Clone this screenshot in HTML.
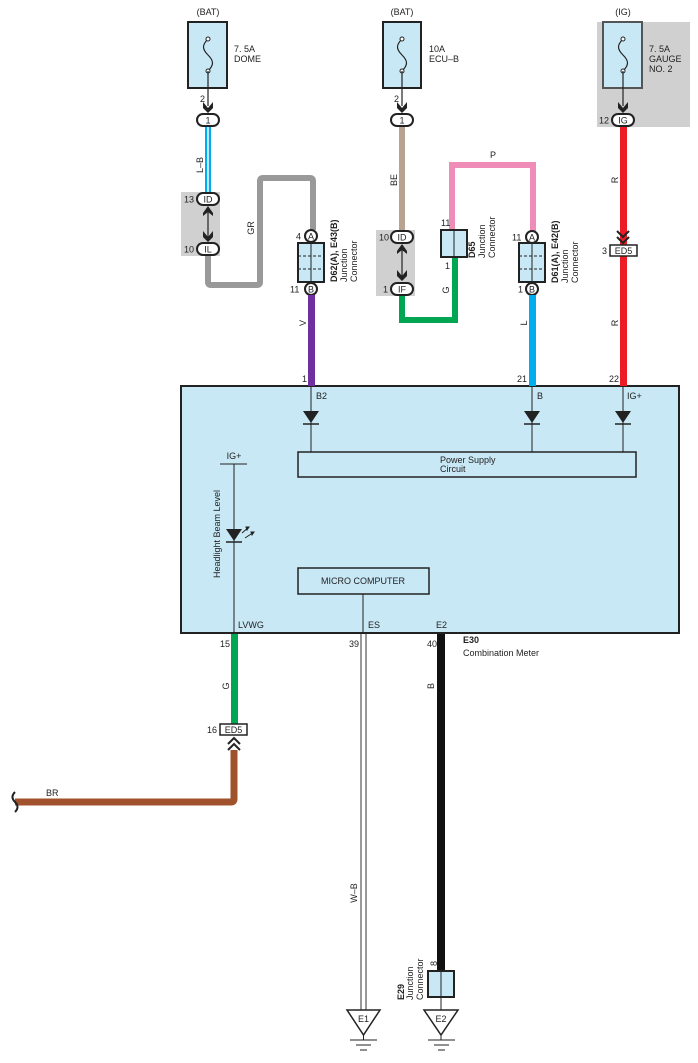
<!DOCTYPE html>
<html><head><meta charset="utf-8"><style>
html,body{margin:0;padding:0;background:#fff}
svg{display:block}
text{font-family:"Liberation Sans",sans-serif;font-size:9px;fill:#222}
.b{font-weight:bold}
</style></head><body>
<svg width="698" height="1063" viewBox="0 0 698 1063" xmlns="http://www.w3.org/2000/svg">
<defs>
<g id="fuse"><path d="M0,0 c-6,6 -6,10 0,16 c6,6 6,10 0,16" fill="none" stroke="#222" stroke-width="1.2"/><circle cx="0" cy="0" r="2" fill="#fff" stroke="#222"/><circle cx="0" cy="32" r="2" fill="#fff" stroke="#222"/></g>
<g id="arr"><path d="M-5,-4 L0,2 L5,-4 L5,2 L0,7 L-5,2Z" fill="#222"/></g>
<g id="diode"><path d="M-8,-6 L8,-6 L0,6Z" fill="#222"/><line x1="-8" y1="7" x2="8" y2="7" stroke="#222" stroke-width="1.5"/></g>
</defs>

<!-- gray backgrounds -->
<rect x="181" y="192" width="39" height="64" fill="#d0d0d0"/>
<rect x="376" y="230" width="39" height="66" fill="#d0d0d0"/>
<rect x="597" y="22" width="93" height="105" fill="#d0d0d0"/>

<!-- main box -->
<rect x="181" y="386" width="498" height="247" fill="#c9e8f6" stroke="#222" stroke-width="2"/>

<!-- Fuse 1 -->
<text x="208" y="15" text-anchor="middle">(BAT)</text>
<rect x="188" y="22" width="39" height="66" fill="#c9e8f6" stroke="#222" stroke-width="2"/>
<use href="#fuse" x="208" y="39"/>
<line x1="208" y1="71" x2="208" y2="106" stroke="#222" stroke-width="1.2"/>
<text x="234" y="52">7. 5A</text><text x="234" y="62">DOME</text>
<text x="200" y="102">2</text>
<use href="#arr" x="208" y="106"/>
<!-- L-B wire -->
<rect x="205" y="126" width="6" height="68" fill="#00aeef"/>
<line x1="208" y1="126" x2="208" y2="194" stroke="#fff" stroke-width="1.5"/>
<text transform="translate(203,165) rotate(-90)" text-anchor="middle">L–B</text>
<!-- GR wire -->
<path d="M208,256 V282 Q208,285 211,285 H257 Q260,285 260,282 V181 Q260,178 263,178 H310 Q313,178 313,181 V230" fill="none" stroke="#999" stroke-width="6"/>
<text transform="translate(254,228) rotate(-90)" text-anchor="middle">GR</text>
<rect x="197" y="114" width="22" height="12" rx="6" fill="#fff" stroke="#222" stroke-width="2"/><text x="208" y="123.5" text-anchor="middle">1</text>
<rect x="197" y="193" width="22" height="12" rx="6" fill="#fff" stroke="#222" stroke-width="2"/><text x="208" y="202.5" text-anchor="middle">ID</text>
<rect x="197" y="243" width="22" height="12" rx="6" fill="#fff" stroke="#222" stroke-width="2"/><text x="208" y="252.5" text-anchor="middle">IL</text>
<text x="184" y="202.5">13</text><text x="184" y="252.5">10</text>
<line x1="208" y1="210" x2="208" y2="238" stroke="#222" stroke-width="1.2"/>
<path d="M203,213 L208,206 L213,213 L213,216 L208,212 L203,216Z" fill="#222"/>
<use href="#arr" x="208" y="235"/>
<!-- D62 connector -->
<circle cx="311" cy="236" r="6" fill="#fff" stroke="#222" stroke-width="2"/><text x="311" y="239.5" text-anchor="middle">A</text>
<text x="296" y="239.5">4</text>
<rect x="298" y="243" width="26" height="39" fill="#c9e8f6" stroke="#222" stroke-width="2"/>
<line x1="311" y1="243" x2="311" y2="282" stroke="#222"/>
<line x1="298" y1="256" x2="324" y2="256" stroke="#222" stroke-dasharray="3,2"/>
<line x1="298" y1="269" x2="324" y2="269" stroke="#222" stroke-dasharray="3,2"/>
<circle cx="311" cy="289" r="6" fill="#fff" stroke="#222" stroke-width="2"/><text x="311" y="292.5" text-anchor="middle">B</text>
<text x="290" y="292.5">11</text>
<text transform="translate(337,282) rotate(-90)"><tspan class="b">D62(A), E43(B)</tspan></text>
<text transform="translate(347,282) rotate(-90)">Junction</text>
<text transform="translate(357,282) rotate(-90)">Connector</text>
<rect x="308" y="295" width="7" height="91" fill="#7030a0"/>
<text transform="translate(306,323) rotate(-90)" text-anchor="middle">V</text>
<text x="302" y="382">1</text>

<!-- Fuse 2 -->
<text x="402" y="15" text-anchor="middle">(BAT)</text>
<rect x="383" y="22" width="38" height="66" fill="#c9e8f6" stroke="#222" stroke-width="2"/>
<use href="#fuse" x="402" y="39"/>
<line x1="402" y1="71" x2="402" y2="106" stroke="#222" stroke-width="1.2"/>
<text x="429" y="52">10A</text><text x="429" y="62">ECU–B</text>
<text x="394" y="102">2</text>
<use href="#arr" x="402" y="106"/>
<rect x="399" y="126" width="6" height="106" fill="#b8a390"/>
<text transform="translate(397,180) rotate(-90)" text-anchor="middle">BE</text>
<path d="M402,295 V320 H455 V257" fill="none" stroke="#00a651" stroke-width="6"/>
<text transform="translate(449,290) rotate(-90)" text-anchor="middle">G</text>
<path d="M452,230 V165 H533 V231" fill="none" stroke="#f08cb8" stroke-width="6"/>
<text x="493" y="158" text-anchor="middle">P</text>
<rect x="391" y="114" width="22" height="12" rx="6" fill="#fff" stroke="#222" stroke-width="2"/><text x="402" y="123.5" text-anchor="middle">1</text>
<rect x="391" y="231" width="22" height="12" rx="6" fill="#fff" stroke="#222" stroke-width="2"/><text x="402" y="240.5" text-anchor="middle">ID</text>
<rect x="391" y="283" width="22" height="12" rx="6" fill="#fff" stroke="#222" stroke-width="2"/><text x="402" y="292.5" text-anchor="middle">IF</text>
<text x="379" y="240.5">10</text><text x="383" y="292.5">1</text>
<line x1="402" y1="248" x2="402" y2="277" stroke="#222" stroke-width="1.2"/>
<path d="M397,251 L402,244 L407,251 L407,254 L402,250 L397,254Z" fill="#222"/>
<use href="#arr" x="402" y="274"/>
<!-- D65 -->
<rect x="441" y="230" width="26" height="27" fill="#c9e8f6" stroke="#222" stroke-width="2"/>
<line x1="454" y1="230" x2="454" y2="257" stroke="#222"/>
<text x="441" y="226">11</text><text x="445" y="269">1</text>
<text transform="translate(475,258) rotate(-90)"><tspan class="b">D65</tspan></text>
<text transform="translate(485,258) rotate(-90)">Junction</text>
<text transform="translate(495,258) rotate(-90)">Connector</text>
<!-- D61 -->
<circle cx="532" cy="237" r="6" fill="#fff" stroke="#222" stroke-width="2"/><text x="532" y="240.5" text-anchor="middle">A</text>
<text x="512" y="240.5">11</text>
<rect x="519" y="243" width="26" height="39" fill="#c9e8f6" stroke="#222" stroke-width="2"/>
<line x1="532" y1="243" x2="532" y2="282" stroke="#222"/>
<line x1="519" y1="256" x2="545" y2="256" stroke="#222" stroke-dasharray="3,2"/>
<line x1="519" y1="269" x2="545" y2="269" stroke="#222" stroke-dasharray="3,2"/>
<circle cx="532" cy="289" r="6" fill="#fff" stroke="#222" stroke-width="2"/><text x="532" y="292.5" text-anchor="middle">B</text>
<text x="518" y="292.5">1</text>
<text transform="translate(558,283) rotate(-90)"><tspan class="b">D61(A), E42(B)</tspan></text>
<text transform="translate(568,283) rotate(-90)">Junction</text>
<text transform="translate(578,283) rotate(-90)">Connector</text>
<rect x="529" y="295" width="7" height="91" fill="#00aeef"/>
<text transform="translate(527,323) rotate(-90)" text-anchor="middle">L</text>
<text x="517" y="382">21</text>

<!-- Fuse 3 -->
<text x="623" y="15" text-anchor="middle">(IG)</text>
<rect x="603" y="22" width="39" height="66" fill="#c9e8f6" stroke="#555" stroke-width="2"/>
<use href="#fuse" x="623" y="39"/>
<line x1="623" y1="71" x2="623" y2="106" stroke="#222" stroke-width="1.2"/>
<text x="649" y="52">7. 5A</text><text x="649" y="62">GAUGE</text><text x="649" y="72">NO. 2</text>
<use href="#arr" x="623" y="106"/>
<rect x="612" y="114" width="22" height="12" rx="6" fill="#fff" stroke="#222" stroke-width="2"/><text x="623" y="123.5" text-anchor="middle">IG</text>
<text x="599" y="123.5">12</text>
<rect x="620" y="127" width="7" height="259" fill="#ed1c24"/>
<text transform="translate(618,180) rotate(-90)" text-anchor="middle">R</text>
<text transform="translate(618,323) rotate(-90)" text-anchor="middle">R</text>
<path d="M617,231 L623,237 L629,231 M617,237 L623,243 L629,237" fill="none" stroke="#222" stroke-width="2"/>
<rect x="610" y="245" width="27" height="11" fill="#fff" stroke="#222" stroke-width="1.5"/><text x="623.5" y="254" text-anchor="middle">ED5</text>
<text x="602" y="254">3</text>
<text x="609" y="382">22</text>

<!-- inside box -->
<line x1="311" y1="386" x2="311" y2="452" stroke="#222"/>
<line x1="532" y1="386" x2="532" y2="452" stroke="#222"/>
<line x1="623" y1="386" x2="623" y2="452" stroke="#222"/>
<use href="#diode" x="311" y="417"/><use href="#diode" x="532" y="417"/><use href="#diode" x="623" y="417"/>
<text x="316" y="399">B2</text><text x="537" y="399">B</text><text x="627" y="399">IG+</text>
<rect x="298" y="452" width="338" height="25" fill="#c9e8f6" stroke="#222" stroke-width="1.5"/>
<text x="440" y="463">Power Supply</text><text x="440" y="472">Circuit</text>
<text x="234" y="459" text-anchor="middle">IG+</text>
<line x1="220" y1="464" x2="247" y2="464" stroke="#222"/>
<line x1="234" y1="464" x2="234" y2="633" stroke="#222"/>
<use href="#diode" x="234" y="535"/>
<path d="M242,533 L249,527 M245,538 L254,532" stroke="#222" stroke-width="1"/>
<path d="M249,527 l-3,0 l1,3Z M254,532 l-3,0 l1,3Z" fill="#222" stroke="#222"/>
<text transform="translate(220,534) rotate(-90)" text-anchor="middle">Headlight Beam Level</text>
<rect x="298" y="568" width="131" height="26" fill="#c9e8f6" stroke="#222" stroke-width="1.5"/>
<text x="363" y="584" text-anchor="middle">MICRO COMPUTER</text>
<line x1="363" y1="594" x2="363" y2="633" stroke="#222"/>
<text x="238" y="628">LVWG</text><text x="368" y="628">ES</text><text x="436" y="628">E2</text>

<!-- bottom -->
<text x="220" y="647">15</text>
<rect x="231" y="634" width="7" height="90" fill="#00a651"/>
<text transform="translate(229,686) rotate(-90)" text-anchor="middle">G</text>
<rect x="220" y="724" width="27" height="11" fill="#fff" stroke="#222" stroke-width="1.5"/><text x="233.5" y="733" text-anchor="middle">ED5</text>
<text x="207" y="733">16</text>
<path d="M228,744 L234,738 L240,744 M228,750 L234,744 L240,750" fill="none" stroke="#222" stroke-width="2"/>
<path d="M234,750 V799 Q234,802 231,802 H15" fill="none" stroke="#a0522d" stroke-width="7"/>
<text x="46" y="796">BR</text>
<path d="M15,792 q-5,5 0,10 q5,5 0,10" fill="none" stroke="#222" stroke-width="2"/>

<text x="349" y="647">39</text>
<line x1="361" y1="634" x2="361" y2="1010" stroke="#333"/>
<line x1="366" y1="634" x2="366" y2="1010" stroke="#333"/>
<text transform="translate(357,893) rotate(-90)" text-anchor="middle">W–B</text>
<path d="M347,1010 H380 L363.5,1035Z" fill="#fff" stroke="#222" stroke-width="1.5"/>
<text x="363.5" y="1022" text-anchor="middle">E1</text>
<line x1="363.5" y1="1035" x2="363.5" y2="1040" stroke="#222"/>
<line x1="350" y1="1040" x2="377" y2="1040" stroke="#222"/><line x1="356" y1="1045" x2="371" y2="1045" stroke="#222"/><line x1="360" y1="1050" x2="367" y2="1050" stroke="#222"/>

<text x="427" y="647">40</text>
<rect x="437" y="634" width="8" height="337" fill="#111"/>
<text transform="translate(434,686) rotate(-90)" text-anchor="middle">B</text>
<text x="463" y="643" class="b">E30</text><text x="463" y="656">Combination Meter</text>
<text transform="translate(437,966) rotate(-90)">8</text>
<rect x="428" y="971" width="26" height="26" fill="#c9e8f6" stroke="#222" stroke-width="2"/>
<line x1="441" y1="971" x2="441" y2="997" stroke="#222"/>
<line x1="441" y1="997" x2="441" y2="1010" stroke="#222"/>
<text transform="translate(404,1000) rotate(-90)"><tspan class="b">E29</tspan></text>
<text transform="translate(413,1000) rotate(-90)">Junction</text>
<text transform="translate(423,1000) rotate(-90)">Connector</text>
<path d="M424,1010 H458 L441,1035Z" fill="#fff" stroke="#222" stroke-width="1.5"/>
<text x="441" y="1022" text-anchor="middle">E2</text>
<line x1="441" y1="1035" x2="441" y2="1040" stroke="#222"/>
<line x1="428" y1="1040" x2="455" y2="1040" stroke="#222"/><line x1="434" y1="1045" x2="449" y2="1045" stroke="#222"/><line x1="438" y1="1050" x2="445" y2="1050" stroke="#222"/>
</svg>
</body></html>
